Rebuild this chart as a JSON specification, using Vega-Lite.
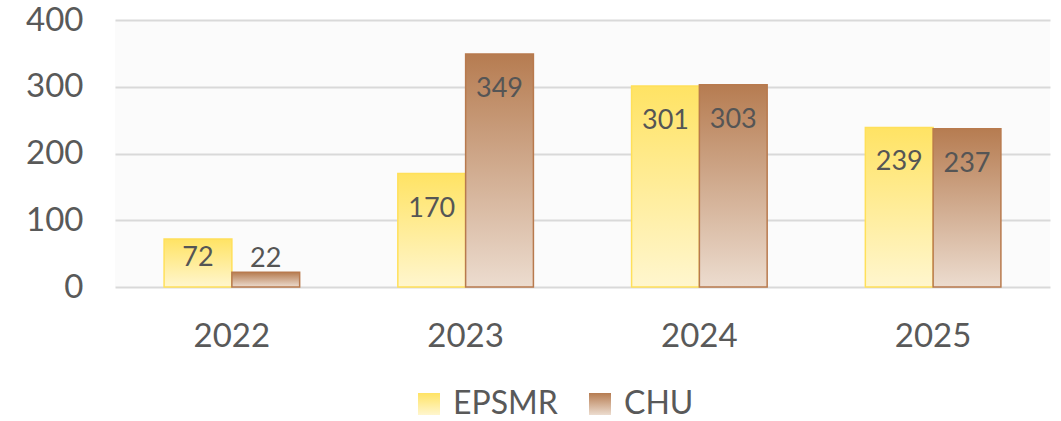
{
  "$schema": "https://vega.github.io/schema/vega-lite/v6.json",
  "width": 935,
  "height": 267,
  "autosize": {"type": "none"},
  "padding": {"left": 115, "top": 20, "right": 11, "bottom": 134},
  "background": "#FFFFFF",
  "config": {
    "font": "Lato",
    "view": {"fill": "#FBFBFB", "stroke": null}
  },
  "data": {
    "values": [
      {"year": "2022", "series": "EPSMR", "v": 72},
      {"year": "2022", "series": "CHU", "v": 22},
      {"year": "2023", "series": "EPSMR", "v": 170},
      {"year": "2023", "series": "CHU", "v": 349},
      {"year": "2024", "series": "EPSMR", "v": 301},
      {"year": "2024", "series": "CHU", "v": 303},
      {"year": "2025", "series": "EPSMR", "v": 239},
      {"year": "2025", "series": "CHU", "v": 237}
    ]
  },
  "encoding": {
    "x": {
      "field": "year", "type": "nominal", "title": null,
      "scale": {"paddingInner": 0.42, "paddingOuter": 0.21},
      "axis": {"labelAngle": 0, "labelFontSize": 33, "labelColor": "#595959", "labelPadding": 33, "ticks": false, "domain": false, "labelFont": "Lato"}
    },
    "xOffset": {"field": "series", "type": "nominal", "sort": ["EPSMR", "CHU"], "scale": {"paddingInner": 0, "paddingOuter": 0}},
    "y": {
      "field": "v", "type": "quantitative", "title": null,
      "scale": {"domain": [0, 400], "nice": false},
      "axis": {"values": [0, 100, 200, 300, 400], "labelFontSize": 33, "labelColor": "#595959", "labelPadding": 32, "ticks": false, "domain": false, "gridColor": "#D9D9D9", "gridWidth": 2, "labelFont": "Lato"}
    }
  },
  "layer": [
    {
      "mark": {
        "type": "bar", "strokeWidth": 1.5,
        "fill": {"expr": "(datum.series === 'EPSMR' || datum.value === 'EPSMR') ? {gradient: 'linear', x1: 0, y1: 0, x2: 0, y2: 1, stops: [{offset: 0, color: '#FFE364'}, {offset: 1, color: '#FFF6CE'}]} : {gradient: 'linear', x1: 0, y1: 0, x2: 0, y2: 1, stops: [{offset: 0, color: '#B67C51'}, {offset: 1, color: '#ECDCCF'}]}"}
      },
      "encoding": {
        "stroke": {
          "field": "series", "type": "nominal", "sort": ["EPSMR", "CHU"], "title": null,
          "scale": {"domain": ["EPSMR", "CHU"], "range": ["#FFE05A", "#B87A4E"]},
          "legend": {
            "orient": "none", "legendX": 298, "legendY": 368, "direction": "horizontal",
            "symbolType": "square", "symbolSize": 484, "symbolStrokeWidth": 0,
            "labelFontSize": 32, "labelColor": "#595959", "labelFont": "Lato",
            "columnPadding": 26, "labelOffset": 8,
            "encode": {"symbols": {"update": {"opacity": {"value": 1}}}}
          }
        }
      }
    },
    {
      "mark": {"type": "text", "fontSize": 27, "color": "#555555", "font": "Lato", "baseline": "middle",
        "dy": {"expr": "datum.v < 30 ? -13 : (datum.v < 100 ? 19 : 35)"}},
      "encoding": {"text": {"field": "v", "type": "quantitative"}}
    }
  ]
}
